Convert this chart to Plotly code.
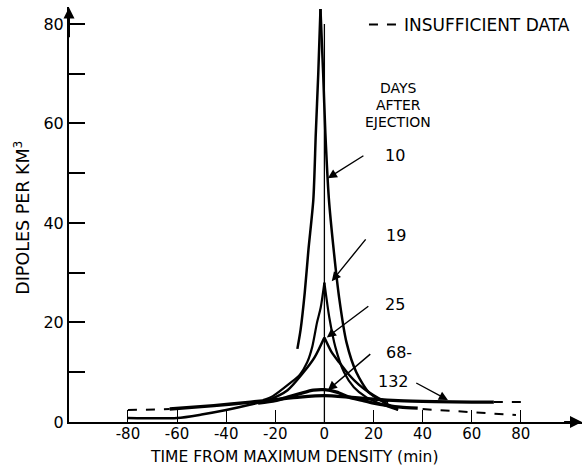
import plotly.graph_objects as go

# ---------------- data ----------------
# 10 days after ejection
d10_left_x = [-11, -9.7, -8, -6.5, -4.5, -3.5, -2.5, -1.6]
d10_left_y = [14.7, 18.5, 26, 34.6, 44.7, 58, 70, 83]
d10_right_x = [-1.6, -0.5, 0.4, 1.8, 3.7, 6, 9, 13, 18, 24, 30]
d10_right_y = [83, 70, 58, 45, 35, 25, 16, 10, 6, 4, 2.5]

# 19 days after ejection
d19_left_x = [-25, -21, -14, -10, -7, -5, -3, -1.5, 0]
d19_left_y = [4.4, 5.2, 7.8, 9.5, 12, 15, 20, 23, 28]
d19_right_x = [0, 2, 4.5, 8, 12, 17, 23, 30]
d19_right_y = [28, 21, 15, 10, 7, 5, 3.6, 2.4]

# 25 days after ejection
d25_left_x = [-80, -60, -50, -40, -30, -23, -15, -8.5, -4, 0]
d25_left_y = [0.8, 0.8, 1.5, 2.4, 3.5, 4.4, 6.4, 10, 13, 17]
d25_right_x = [0, 3, 6, 10, 14, 18, 22, 26]
d25_right_y = [17, 14, 12, 9.5, 7.5, 6, 4.8, 4]

# 68 days after ejection
d68_x = [-27, -20, -15, -10, -4.5, 0, 5, 10, 15, 20, 26, 31, 38]
d68_y = [3.8, 4.3, 5, 5.7, 6.4, 6.5, 6, 5, 4.4, 3.8, 3.3, 3, 2.8]

# 132 days after ejection
d132_x = [-63, -45, -30, -20, -10, 0, 10, 20, 30, 45, 60, 69]
d132_y = [2.6, 3.3, 4, 4.5, 5, 5.3, 5, 4.6, 4.3, 4.1, 4, 4]

# insufficient data (dashed segments)
insuff_x = [-80, -63, None, 69, 80, None, 40, 78]
insuff_y = [2.4, 2.6, None, 4, 4, None, 2.6, 1.4]

# labels: text, position, arrow tail, arrow head
day_labels = ["10", "19", "25", "68-", "132"]
label_x = [28.7, 29.1, 28.7, 30.3, 28.3]
label_y = [53.5, 37.4, 23.7, 14, 8.2]
arrow_tail_x = [16.5, 17.3, 18.5, 19.3, 36.8]
arrow_tail_y = [53.7, 37, 23.5, 13.9, 8]
arrow_head_x = [1.4, 3, 1, 1.4, 50.3]
arrow_head_y = [49, 28.3, 17, 6.4, 4.4]

header_lines = ["DAYS", "AFTER", "EJECTION"]
header_y = [67.1, 63.7, 60.3]

x_tickvals = [-80, -60, -40, -20, 0, 20, 40, 60, 80]
x_ticktext = ["-80", "-60", "-40", "-20", "0", "20", "40", "60", "80"]
y_tickvals = [0, 10, 20, 30, 40, 50, 60, 70, 80]
y_ticktext = ["0", "", "20", "", "40", "", "60", "", "80"]

FONT = "DejaVu Sans"
BLACK = "black"

fig = go.Figure()


def add_line(x, y, width=2.5, shape="spline"):
    fig.add_trace(go.Scatter(x=x, y=y, mode="lines", showlegend=False,
                             line=dict(color=BLACK, width=width, shape=shape, smoothing=0.7),
                             hoverinfo="skip"))


add_line(d10_left_x, d10_left_y, 2.5)
add_line(d10_right_x, d10_right_y, 2.5)
add_line(d19_left_x, d19_left_y, 2.2)
add_line(d19_right_x, d19_right_y, 2.2)
add_line(d25_left_x, d25_left_y, 2.5)
add_line(d25_right_x, d25_right_y, 2.5)
add_line(d68_x, d68_y, 3.2)
add_line(d132_x, d132_y, 3.4)
# centre line at maximum density
add_line([0, 0], [0, 80], 1.3, "linear")

fig.add_trace(go.Scatter(x=insuff_x, y=insuff_y, mode="lines", name="INSUFFICIENT DATA",
                         line=dict(color=BLACK, width=2, dash="dash"),
                         connectgaps=False, showlegend=True, hoverinfo="skip"))

annotations = []
for t, lx, ly, tx, ty, hx, hy in zip(day_labels, label_x, label_y, arrow_tail_x,
                                     arrow_tail_y, arrow_head_x, arrow_head_y):
    annotations.append(dict(x=lx, y=ly, text=t, showarrow=False,
                            font=dict(family=FONT, size=16, color=BLACK)))
    annotations.append(dict(x=hx, y=hy, ax=tx, ay=ty, axref="x", ayref="y",
                            text="", showarrow=True, arrowhead=2, arrowsize=1.3,
                            arrowwidth=1.4, arrowcolor=BLACK))

for txt, yy in zip(header_lines, header_y):
    annotations.append(dict(x=30, y=yy, text=txt, showarrow=False,
                            font=dict(family=FONT, size=14, color=BLACK)))

# axis arrows
annotations.append(dict(x=-104, y=83.3, ax=-104, ay=77, axref="x", ayref="y", text="",
                        showarrow=True, arrowhead=2, arrowsize=1.1, arrowwidth=2,
                        arrowcolor=BLACK))
annotations.append(dict(x=104.9, y=0, ax=97, ay=0, axref="x", ayref="y", text="",
                        showarrow=True, arrowhead=2, arrowsize=1.2, arrowwidth=2,
                        arrowcolor=BLACK))

# axis titles
annotations.append(dict(x=-12.4, y=0, yshift=-35, text="TIME FROM MAXIMUM DENSITY (min)",
                        showarrow=False, yanchor="middle", xanchor="center",
                        font=dict(family=FONT, size=15.5, color=BLACK)))
annotations.append(dict(x=-0.092, xref="paper", y=41, text="DIPOLES PER KM<sup>3</sup>",
                        showarrow=False, textangle=-90, xanchor="center", yanchor="middle",
                        font=dict(family=FONT, size=17.5, color=BLACK)))

fig.update_layout(
    width=584, height=467,
    margin=dict(l=69, r=2, t=7, b=45),
    paper_bgcolor="white", plot_bgcolor="white",
    font=dict(family=FONT, size=16, color=BLACK),
    annotations=annotations,
    legend=dict(x=0.575, y=1.0, xanchor="left", yanchor="top",
                bgcolor="rgba(0,0,0,0)", font=dict(family=FONT, size=17, color=BLACK),
                itemwidth=30),
    xaxis=dict(range=[-104, 104.9], showgrid=False, zeroline=False,
               showline=True, linecolor=BLACK, linewidth=2,
               ticks="inside", ticklen=12, tickwidth=1.3, tickcolor=BLACK,
               tickvals=x_tickvals, ticktext=x_ticktext, ticklabelstandoff=-3,
               tickfont=dict(family=FONT, size=15, color=BLACK)),
    yaxis=dict(range=[0, 83.4], showgrid=False, zeroline=False,
               showline=True, linecolor=BLACK, linewidth=2,
               ticks="inside", ticklen=16, tickwidth=1.5, tickcolor=BLACK,
               tickvals=y_tickvals, ticktext=y_ticktext,
               tickfont=dict(family=FONT, size=16, color=BLACK)),
)

fig.write_html("out.html", config={"displayModeBar": False},
               post_script="document.body.style.margin='0';")
